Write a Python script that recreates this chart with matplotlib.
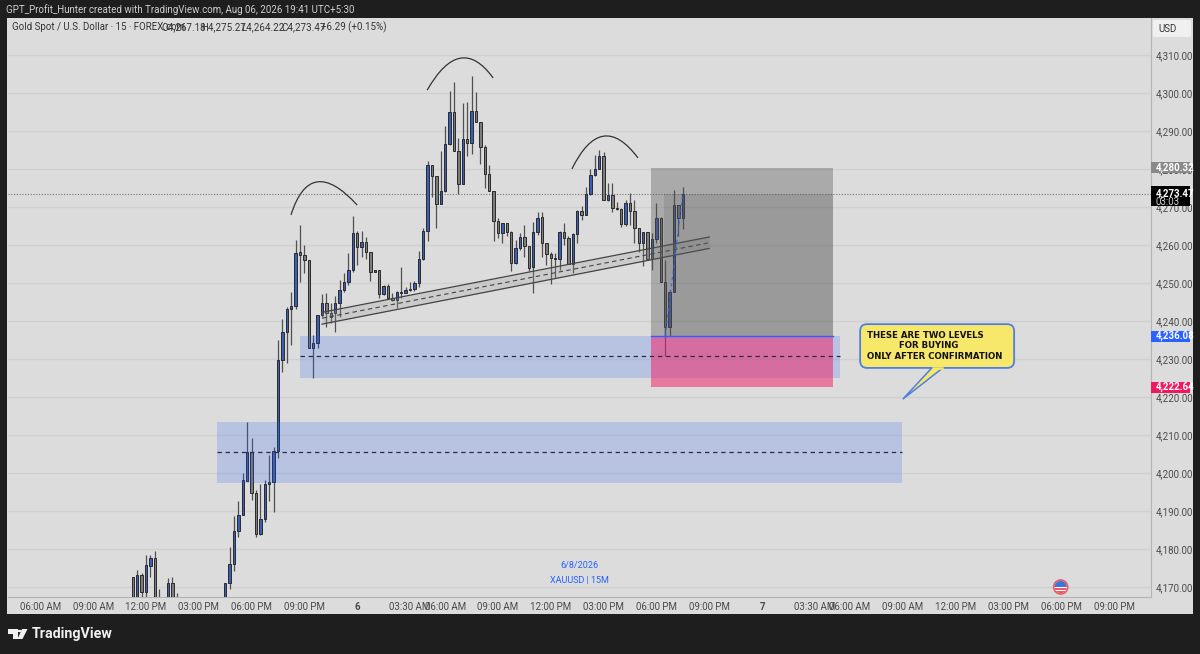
import numpy as np
import matplotlib
matplotlib.use("Agg")
import matplotlib.pyplot as plt
from matplotlib.patches import Rectangle, PathPatch, FancyBboxPatch, Polygon, Circle
from matplotlib.path import Path
from matplotlib.transforms import blended_transform_factory, IdentityTransform

nan = float("nan")
first_bar = -3  # bar 0 is the 12:00 PM candle

# prices, nan = candle sits below the visible range
opens = [
    4172.8, 4165, 4173.3, 4168.9, 4175.7, 4177.7, 4166, nan, 4165, 4171.1,
    4166, nan, nan, nan, nan, nan, nan, nan, nan, nan,
    nan, 4165, 4171.1, 4176.2, 4184.9, 4189, 4198.1, 4205.5, 4194.9, 4184,
    4188, 4197.2, 4197.8, 4205.9, 4229.8, 4237.2, 4243.2, 4244.1, 4258.1, 4257.5,
    4256.1, 4232.8, 4234.3, 4241.6, 4244.7, 4242.2, 4242, 4244.7, 4248.3, 4250.4,
    4253.3, 4263.1, 4259.4, 4260.9, 4258.2, 4253, 4253.4, 4247, 4249.2, 4246.2,
    4245.5, 4247.6, 4247.5, 4248.2, 4248.4, 4250.1, 4256.2, 4263.7, 4280.9, 4278.1,
    4270.8, 4274.1, 4286.5, 4294.9, 4284.8, 4276, 4287.8, 4286.7, 4295.2, 4292.2,
    4285.8, 4278.6, 4274.1, 4266.4, 4263.1, 4265.7, 4263.5, 4255.2, 4259.1, 4262.2,
    4259.7, 4254.1, 4263.5, 4267.3, 4260.6, 4257.6, 4256.6, 4256.3, 4263.4, 4261.8,
    4255, 4262.9, 4269, 4268, 4273.3, 4278.4, 4280, 4283.5, 4271.7, 4273.1,
    4269.6, 4269.4, 4265.5, 4271, 4269, 4264.4, 4260.6, 4263.4, 4256.2, 4261.7,
    4267.1, 4250.4, 4238.5, 4247.7, 4270.4, 4267.18,
]
closes = [
    4165, 4173.3, 4168.9, 4175.9, 4177.7, 4165, 4165, nan, 4171.1, 4165,
    4165, nan, nan, nan, nan, nan, nan, nan, nan, nan,
    nan, 4171.1, 4176.2, 4184.9, 4189, 4198.2, 4205.5, 4194.9, 4184, 4188,
    4197.2, 4197.8, 4205.9, 4229.8, 4237.2, 4243.2, 4244.1, 4258, 4257.5, 4256.1,
    4232.8, 4234.3, 4241.6, 4244.7, 4242.2, 4241, 4244.7, 4248.3, 4250.4, 4253.3,
    4263.1, 4259.4, 4260.9, 4258.2, 4253, 4253.4, 4247, 4249.2, 4246.2, 4245.5,
    4247.6, 4247.3, 4248.2, 4248.4, 4250.1, 4256.2, 4263.7, 4280.9, 4278.1, 4270.8,
    4274.1, 4286.5, 4294.9, 4284.8, 4276, 4287.8, 4286.7, 4295.2, 4292.2, 4285.8,
    4278.6, 4274.1, 4266.4, 4263.1, 4265.7, 4263.5, 4255.2, 4259.1, 4262.2, 4259.7,
    4253.9, 4263.5, 4267.2, 4260.6, 4257.6, 4256.6, 4256.3, 4263.4, 4261.8, 4255,
    4262.9, 4269, 4268, 4273.3, 4278.4, 4280, 4283.5, 4271.7, 4273.1, 4269.6,
    4269.4, 4265.5, 4271, 4269, 4264.4, 4260.6, 4263.4, 4256.2, 4261.7, 4267.1,
    4250.4, 4238.5, 4247.7, 4270.4, 4267.1, 4273.47,
]
highs = [
    4172.8, 4174.6, 4173.7, 4178.5, 4178.5, 4179.7, 4169.5, nan, 4172.4, 4172.7,
    4168.5, nan, nan, nan, nan, nan, nan, nan, nan, nan,
    nan, 4171.1, 4180.7, 4188.8, 4192.7, 4200, 4213.6, 4209.2, 4195.6, 4197.1,
    4198.2, 4204.8, 4207, 4235, 4240.5, 4243.6, 4247.7, 4261.3, 4265.3, 4260,
    4256.1, 4236.3, 4241.6, 4247.1, 4247.3, 4244.7, 4246.6, 4250.8, 4252.6, 4257.8,
    4267.6, 4263.8, 4263.7, 4262.2, 4258.2, 4253.4, 4253.4, 4249.5, 4249.8, 4247.3,
    4248, 4254.3, 4249, 4250.4, 4250.6, 4258.5, 4264.6, 4282.1, 4280.9, 4278.1,
    4284.7, 4291.3, 4300.5, 4302.8, 4288, 4297.4, 4297.7, 4304.4, 4300.1, 4292.4,
    4286.3, 4281, 4274.1, 4267, 4265.9, 4265.9, 4263.7, 4261.3, 4263.1, 4265.3,
    4259.7, 4266.1, 4268.8, 4268.8, 4260.6, 4258.2, 4257.8, 4263.7, 4265.7, 4262.4,
    4263.1, 4269.2, 4270.2, 4275.3, 4280.1, 4283.7, 4285, 4284.4, 4276.2, 4276.2,
    4271.4, 4269.6, 4271.7, 4273.6, 4271.7, 4264.4, 4263.5, 4263.4, 4263.1, 4271.1,
    4267.4, 4256.1, 4248.2, 4274.5, 4270.4, 4275.27,
]
lows = [
    4164, 4164, 4166, 4166, 4172.8, 4164, 4164, nan, 4164, 4164,
    4164, nan, nan, nan, nan, nan, nan, nan, nan, nan,
    nan, 4164, 4169.6, 4174.4, 4183.2, 4189, 4198.1, 4193, 4183.3, 4183.8,
    4187.3, 4192.7, 4189.9, 4203.9, 4226.7, 4229.1, 4233.7, 4243.1, 4250.4, 4252.7,
    4232.8, 4225.1, 4232.8, 4241.2, 4238.5, 4239.4, 4237.2, 4241.2, 4247.7, 4249.5,
    4253, 4254.7, 4256.9, 4256.3, 4250.6, 4253, 4246.2, 4246.9, 4245.7, 4245.4,
    4243.4, 4246, 4247.3, 4248, 4248, 4249, 4256.1, 4261.1, 4272.5, 4264.6,
    4270.8, 4274, 4286.3, 4284.8, 4273.3, 4276, 4283.4, 4283.9, 4292.2, 4281.3,
    4274.9, 4274.1, 4261.1, 4261.8, 4260.6, 4262.4, 4253.2, 4255, 4258.7, 4256.9,
    4253.2, 4247.5, 4262.5, 4256.9, 4254.7, 4249.7, 4251.2, 4253.4, 4260, 4255,
    4252.7, 4260.4, 4266.6, 4267.9, 4273.1, 4278.2, 4280, 4271.7, 4271.6, 4268.8,
    4269.2, 4264.8, 4265, 4265.3, 4260.4, 4258.2, 4254.5, 4256.1, 4253.4, 4260.4,
    4250.4, 4230.7, 4236.2, 4247.7, 4262.4, 4264.22,
]

price_ticks = list(range(4170, 4320, 10))
time_bars = [-24, -12, 0, 12, 24, 36, 48, 60, 68, 80, 92, 104, 116, 128, 140, 152,
             160, 172, 184, 196, 208, 220]
time_labels = ["06:00 AM", "09:00 AM", "12:00 PM", "03:00 PM", "06:00 PM", "09:00 PM", "6",
               "03:30 AM", "06:00 AM", "09:00 AM", "12:00 PM", "03:00 PM", "06:00 PM", "09:00 PM", "7",
               "03:30 AM", "06:00 AM", "09:00 AM", "12:00 PM", "03:00 PM", "06:00 PM", "09:00 PM"]

last_price = 4273.47
target_price = 4280.32
entry_price = 4236.08
stop_price = 4222.64

W, H = 1200, 654
BG = "#1e1e1e"
PANEL = "#dcdcdc"
GRID = "#d0d0d0"
TEXT = "#4a4a4a"
BLUE = "#2962ff"
FS = 7.05


def fx(x):
    return x / W


def fy(y):
    return 1 - y / H


plt.rcParams["font.family"] = ["Liberation Sans Narrow", "Roboto", "DejaVu Sans"]
fig = plt.figure(figsize=(12, 6.54), dpi=100, facecolor=BG)

# light panel behind chart + both axis strips
fig.patches.append(Rectangle((fx(7), fy(614)), fx(1186), 596 / H, transform=fig.transFigure,
                             facecolor=PANEL, edgecolor="none", zorder=-5))

ax = fig.add_axes([fx(8), fy(597), fx(1142.5), 579 / H])
ax.patch.set_alpha(0)
ax.set_xlim(-31.36, 228.29)
ax.set_ylim(4167.49, 4319.66)
for side in ["top", "left"]:
    ax.spines[side].set_visible(False)
ax.spines["right"].set_color("#b4b4b4")
ax.spines["bottom"].set_color("#b4b4b4")

ax.yaxis.tick_right()
ax.set_yticks(price_ticks)
ax.set_yticklabels([f"{p:,.2f}" for p in price_ticks], fontsize=FS, color=TEXT)
ax.set_xticks(time_bars)
ax.set_xticklabels(time_labels, fontsize=FS, color=TEXT)
ax.tick_params(axis="y", length=0, pad=3.8)
ax.tick_params(axis="x", length=0, pad=3.5)
for lab in ax.get_xticklabels():
    if lab.get_text() in ("6", "7"):
        lab.set_fontweight("bold")
ax.grid(axis="y", color=GRID, lw=1.0, zorder=0)
ax.set_axisbelow(True)

# candles
bars = first_bar + np.arange(len(opens))
o = np.array(opens)
c = np.array(closes)
up = c >= o
ax.vlines(bars, lows, highs, color="#505050", lw=0.9, zorder=3)
ax.bar(bars, np.abs(c - o), bottom=np.minimum(o, c), width=0.56,
       color=np.where(up, "#3a5fb8", "#7c7c7c"), edgecolor="#2a2a2a", lw=0.7, zorder=4)

# last price
ax.axhline(last_price, color="#777777", lw=0.8, ls=(0, (1, 1.5)), zorder=2)

# buy zones
zones = [(35, 157.7, 4225.0, entry_price, 4230.8), (16.1, 171.8, 4197.4, 4213.5, 4205.5)]
for x0, x1, bottom, top, mid in zones:
    ax.add_patch(Rectangle((x0, bottom), x1 - x0, top - bottom, facecolor=BLUE, alpha=0.2,
                           edgecolor="none", zorder=5))
    ax.plot([x0, x1], [mid, mid], color="#2b2b3a", lw=0.9, ls=(0, (3.5, 3)), zorder=8)

# channel under the neckline
chan_x = [40, 128]
chan_top = [4242.3, 4262.1]
chan_mid = [4240.75, 4260.6]
chan_bot = [4239.2, 4259.1]
ax.fill_between(chan_x, chan_bot, chan_top, color="#9a9a9a", alpha=0.25, lw=0, zorder=5)
ax.plot(chan_x, chan_top, color="#444444", lw=0.9, zorder=6)
ax.plot(chan_x, chan_bot, color="#444444", lw=0.9, zorder=6)
ax.plot(chan_x, chan_mid, color="#444444", lw=0.8, ls=(0, (4, 3)), zorder=6)

# position tool
pos_x0, pos_x1 = 114.8, 156.1
ax.add_patch(Rectangle((pos_x0, entry_price), pos_x1 - pos_x0, target_price - entry_price,
                       facecolor="#555555", alpha=0.37, edgecolor="none", zorder=7))
ax.add_patch(Rectangle((117.8, entry_price), pos_x1 - 117.8, last_price - entry_price,
                       facecolor="#555555", alpha=0.19, edgecolor="none", zorder=7))
ax.add_patch(Rectangle((pos_x0, stop_price), pos_x1 - pos_x0, entry_price - stop_price,
                       facecolor="#f2185f", alpha=0.5, edgecolor="none", zorder=7))
ax.plot([pos_x0, pos_x1], [entry_price, entry_price], color=BLUE, lw=1, zorder=8)
ax.plot([118, 122], [entry_price, last_price], color=BLUE, lw=0.9, ls=(0, (2.5, 2.5)), alpha=0.8, zorder=8)

# the three hand drawn arcs
arcs = [
    [(32.95, 4267.9), (38.9, 4276.6), (48.0, 4270.5)],
    [(63.9, 4300.7), (71.4, 4309.1), (78.9, 4303.9)],
    [(96.8, 4280.0), (103.9, 4288.6), (111.8, 4282.9)],
]
for a, peak, b in arcs:
    ctrl = (2 * peak[0] - (a[0] + b[0]) / 2, 2 * peak[1] - (a[1] + b[1]) / 2)
    ax.add_patch(PathPatch(Path([a, ctrl, b], [Path.MOVETO, Path.CURVE3, Path.CURVE3]),
                           facecolor="none", edgecolor="#333333", lw=0.9, zorder=8))

# callout
box_edge = "#4f7fe0"
box_fill = "#f7e76a"
ax.add_patch(Polygon([(178.6, 4227.7), (181.1, 4227.7), (172, 4219.5)], closed=True,
                     facecolor=box_fill, edgecolor=box_edge, lw=1.1, zorder=9))
ax.add_patch(FancyBboxPatch((162.3, 4227.7), 35, 11.5, boxstyle="round,pad=0,rounding_size=1.6",
                            mutation_aspect=1.15, facecolor=box_fill, edgecolor=box_edge,
                            lw=1.3, zorder=9))
ax.plot([178.9, 180.8], [4227.7, 4227.7], color=box_fill, lw=1.8, zorder=10)
call_lines = ["THESE ARE TWO LEVELS", "FOR BUYING", "ONLY AFTER CONFIRMATION"]
call_y = [4236.3, 4233.5, 4230.8]
call_x = [163.9, 171.1, 163.9]
for t, xx, yy in zip(call_lines, call_x, call_y):
    ax.text(xx, yy, t, fontsize=6.25, fontweight="bold", color="#111111", ha="left", va="center",
            family="DejaVu Sans", zorder=11)

# watermark text
ax.text(98.4, 4175.9, "6/8/2026", fontsize=6.5, color=BLUE, ha="center", va="center", family="Roboto", zorder=6)
ax.text(98.4, 4171.7, "XAUUSD | 15M", fontsize=6.5, color=BLUE, ha="center", va="center", family="Roboto", zorder=6)

# price tags on the right hand axis
tag_tf = blended_transform_factory(fig.transFigure, ax.transData)
tags = [(target_price, "#8a8a8a", f"{target_price:,.2f}"),
        (entry_price, BLUE, f"{entry_price:,.2f}"),
        (stop_price, "#f2185f", f"{stop_price:,.2f}")]
for price, col, label in tags:
    ax.add_patch(Rectangle((fx(1151), price - 1.45), fx(39), 2.9, transform=tag_tf, facecolor=col,
                           edgecolor="none", clip_on=False, zorder=20))
    ax.text(fx(1156), price, label, transform=tag_tf, fontsize=FS, color="white", fontweight="bold",
            va="center", clip_on=False, zorder=21)
ax.add_patch(Rectangle((fx(1151), 4270.2), fx(39), 5.2, transform=tag_tf, facecolor="black",
                       edgecolor="none", clip_on=False, zorder=20))
ax.text(fx(1156), last_price, f"{last_price:,.2f}", transform=tag_tf, fontsize=FS, color="white",
        fontweight="bold", va="center", clip_on=False, zorder=21)
ax.text(fx(1156), 4271.3, "03:03", transform=tag_tf, fontsize=FS, color="#d0d0d0",
        va="center", clip_on=False, zorder=21)

# header text
fig.text(fx(6), fy(9.5), "GPT_Profit_Hunter created with TradingView.com, Aug 06, 2026 19:41 UTC+5:30",
         fontsize=FS, color="#cfcfcf", va="center")
fig.text(fx(12), fy(27), "Gold Spot / U.S. Dollar · 15 · FOREX.com", fontsize=FS, color="#333333", va="center")
legend_vals = ["O4,267.18", "H4,275.27", "L4,264.22", "C4,273.47", "+6.29 (+0.15%)"]
legend_x = [161, 201, 241, 281, 321]
for t, xx in zip(legend_vals, legend_x):
    fig.text(fx(xx), fy(27), t, fontsize=FS, color="#333333", va="center")

# USD box
fig.patches.append(FancyBboxPatch((fx(1153), fy(37)), fx(38), 17 / H, transform=fig.transFigure,
                                  boxstyle="round,pad=0,rounding_size=0.002", facecolor="#f0f0f0",
                                  edgecolor="none"))
fig.text(fx(1158), fy(29), "USD", fontsize=FS, color="#333333", ha="left", va="center")

# flag marker, drawn in device pixels so it stays round
flag_x, flag_y, flag_r = 1060.7, H - 587, 7
disc = Circle((flag_x, flag_y), flag_r, transform=IdentityTransform(), facecolor="white",
              edgecolor="#ec5a64", lw=1.2, zorder=3)
fig.patches.append(disc)
flag_parts = [(flag_x - 7, flag_y, 14, 7, "#3f74d8"), (flag_x - 7, flag_y - 3, 14, 1.6, "#ec5a64"),
              (flag_x - 7, flag_y - 6, 14, 1.6, "#ec5a64")]
for px0, py0, pw, ph, col in flag_parts:
    part = Rectangle((px0, py0), pw, ph, transform=IdentityTransform(), facecolor=col, edgecolor="none", zorder=3.1)
    fig.patches.append(part)
    part.set_clip_path(Circle((flag_x, flag_y), flag_r - 0.8, transform=IdentityTransform()))

# TradingView logo
logo = "#f0f0f0"
fig.patches.append(Polygon([(fx(8), fy(629)), (fx(17.5), fy(629)), (fx(17.5), fy(639)), (fx(13), fy(639)),
                            (fx(13), fy(633.5)), (fx(8), fy(633.5))], closed=True,
                           transform=fig.transFigure, facecolor=logo, edgecolor="none"))
fig.patches.append(Circle((fx(19.5), fy(631)), 0.0018, transform=fig.transFigure, facecolor=logo, edgecolor="none"))
fig.patches.append(Polygon([(fx(22), fy(629)), (fx(27.5), fy(629)), (fx(22.5), fy(639)), (fx(17.5), fy(639))],
                           closed=True, transform=fig.transFigure, facecolor=logo, edgecolor="none"))
fig.text(fx(32), fy(634), "TradingView", fontsize=10.3, fontweight="bold", color=logo, va="center", family="Roboto")

fig.savefig("out.png", dpi=100, facecolor=BG)
plt.close(fig)
